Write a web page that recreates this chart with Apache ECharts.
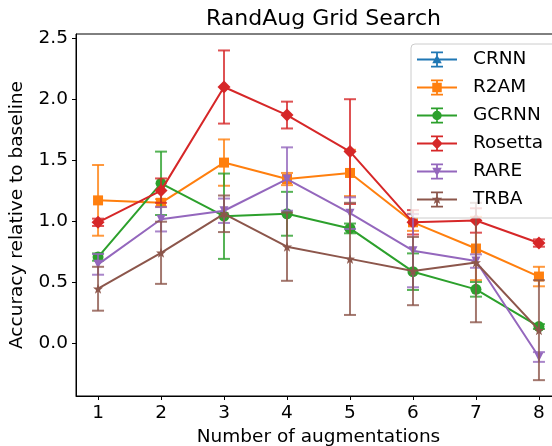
<!DOCTYPE html>
<html>
<head>
<meta charset="utf-8">
<script src="https://cdn.jsdelivr.net/npm/echarts@6/dist/echarts.min.js"></script>
<style>
html,body{margin:0;padding:0;background:#fff;}
#chart{width:552px;height:446px;}
</style>
</head>
<body>
<div id="chart"></div>
<script>
// ---- data ----
var xValues = [1, 2, 3, 4, 5, 6, 7, 8];
var seriesNames = ['CRNN', 'R2AM', 'GCRNN', 'Rosetta', 'RARE', 'TRBA'];

var crnn      = [];
var crnnErr   = [];
var r2am      = [1.17, 1.15, 1.48, 1.345, 1.395, 0.99, 0.775, 0.545];
var r2amErr   = [0.29, 0.03, 0.19, 0.05, 0.19, 0.07, 0.26, 0.08];
var gcrnn     = [0.705, 1.31, 1.04, 1.06, 0.94, 0.585, 0.44, 0.135];
var gcrnnErr  = [0.03, 0.26, 0.35, 0.18, 0.04, 0.15, 0.06, 0.02];
var rosetta   = [0.99, 1.25, 2.10, 1.87, 1.57, 0.99, 1.005, 0.82];
var rosettaErr= [0.03, 0.10, 0.30, 0.11, 0.43, 0.10, 0.10, 0.03];
var rare      = [0.645, 1.015, 1.085, 1.345, 1.065, 0.757, 0.672, -0.115];
var rareErr   = [0.085, 0.10, 0.10, 0.26, 0.13, 0.30, 0.055, 0.04];
var trba      = [0.445, 0.74, 1.06, 0.79, 0.69, 0.59, 0.66, 0.105];
var trbaErr   = [0.18, 0.255, 0.15, 0.28, 0.46, 0.28, 0.49, 0.41];

var yTicks = [0, 0.5, 1.0, 1.5, 2.0, 2.5];
var xTicks = [1, 2, 3, 4, 5, 6, 7, 8];

var titleText = 'RandAug Grid Search';
var xName = 'Number of augmentations';
var yName = 'Accuracy relative to baseline';

// ---- styling ----
var colors = ['#1f77b4', '#ff7f0e', '#2ca02c', '#d62728', '#9467bd', '#8c564b'];
var markers = ['tri', 'square', 'circle', 'diamond', 'vtri', 'star'];
var values = [crnn, r2am, gcrnn, rosetta, rare, trba];
var errs = [crnnErr, r2amErr, gcrnnErr, rosettaErr, rareErr, trbaErr];
var FONT = 'DejaVu Sans';
var FS = 18.5;

function starPath(cx, cy, ro, ri) {
  var s = '';
  for (var i = 0; i < 10; i++) {
    var a = (-90 + 36 * i) * Math.PI / 180;
    var r = (i % 2 === 0) ? ro : ri;
    var x = cx + r * Math.cos(a), y = cy + r * Math.sin(a);
    s += (i === 0 ? 'M' : 'L') + x.toFixed(3) + ' ' + y.toFixed(3) + ' ';
  }
  return s + 'Z ';
}
function rect(x0, y0, x1, y1) {
  return 'M' + x0 + ' ' + y0 + ' L' + x1 + ' ' + y0 + ' L' + x1 + ' ' + y1 + ' L' + x0 + ' ' + y1 + ' Z ';
}
function markerPath(type, cx, cy, s) {
  var h = s / 2;
  switch (type) {
    case 'tri': return 'M' + cx + ' ' + (cy - h) + ' L' + (cx + h) + ' ' + (cy + h * 0.8) + ' L' + (cx - h) + ' ' + (cy + h * 0.8) + ' Z ';
    case 'vtri': return 'M' + cx + ' ' + (cy + h) + ' L' + (cx - h) + ' ' + (cy - h * 0.8) + ' L' + (cx + h) + ' ' + (cy - h * 0.8) + ' Z ';
    case 'square': return rect(cx - h, cy - h, cx + h, cy + h);
    case 'diamond': return 'M' + cx + ' ' + (cy - h) + ' L' + (cx + h) + ' ' + cy + ' L' + cx + ' ' + (cy + h) + ' L' + (cx - h) + ' ' + cy + ' Z ';
    case 'circle': return 'M' + (cx + h) + ' ' + cy + ' A' + h + ' ' + h + ' 0 1 1 ' + (cx - h) + ' ' + cy + ' A' + h + ' ' + h + ' 0 1 1 ' + (cx + h) + ' ' + cy + ' Z ';
    case 'star': return starPath(cx, cy, h * 1.15, h * 0.45);
  }
}
var markerSizes = {tri: 10, vtri: 10, square: 10, circle: 10, diamond: 12, star: 10};
function legendIcon(type) {
  // 40 x 16 box
  var p = rect(0, 7.1, 40, 8.9) + rect(19.1, 0, 20.9, 16) + rect(14, 0, 26, 1.8) + rect(14, 14.2, 26, 16);
  p += markerPath(type, 20, 8, markerSizes[type] * 0.95);
  return 'path://' + p;
}
function seriesSymbol(type) {
  if (type === 'circle') return 'circle';
  if (type === 'square') return 'rect';
  if (type === 'diamond') return 'diamond';
  if (type === 'tri') return 'triangle';
  if (type === 'vtri') return 'triangle';
  return 'path://' + starPath(10, 10, 10, 4);
}
var symSize = {circle: 11, square: 10, diamond: 13, tri: 10, vtri: 9, star: 10};

var series = [];
seriesNames.forEach(function (name, i) {
  var vals = values[i], e = errs[i], col = colors[i];
  var lineData = [], errData = [];
  for (var k = 0; k < vals.length; k++) {
    lineData.push([xValues[k], vals[k]]);
    errData.push([xValues[k], vals[k] - e[k], vals[k] + e[k]]);
  }
  series.push({
    name: name + ' err',
    type: 'custom',
    data: errData,
    z: 2 + i,
    silent: true,
    encode: {x: 0, y: [1, 2]},
    renderItem: (function (c) {
      return function (params, api) {
        var x = api.value(0);
        var lo = api.coord([x, api.value(1)]);
        var hi = api.coord([x, api.value(2)]);
        var hw = 6;
        var st = {stroke: c, lineWidth: 2, opacity: 0.8};
        return {
          type: 'group',
          children: [
            {type: 'line', shape: {x1: hi[0], y1: hi[1], x2: lo[0], y2: lo[1]}, style: st},
            {type: 'line', shape: {x1: hi[0] - hw, y1: hi[1], x2: hi[0] + hw, y2: hi[1]}, style: st},
            {type: 'line', shape: {x1: lo[0] - hw, y1: lo[1], x2: lo[0] + hw, y2: lo[1]}, style: st}
          ]
        };
      };
    })(col)
  });
  series.push({
    name: name,
    type: 'line',
    data: lineData,
    z: 2 + i,
    color: col,
    symbol: seriesSymbol(markers[i]),
    symbolRotate: markers[i] === 'vtri' ? 180 : 0,
    symbolSize: symSize[markers[i]],
    showAllSymbol: true,
    lineStyle: {color: col, width: 2},
    itemStyle: {color: col, borderWidth: 0},
    emphasis: {disabled: true},
    animation: false
  });
});

var chart = echarts.init(document.getElementById('chart'), null, {renderer: 'canvas'});
chart.setOption({
  animation: false,
  color: colors,
  title: {
    text: titleText,
    left: 318.5, top: 3,
    textAlign: 'center',
    textStyle: {fontFamily: FONT, fontSize: 22, fontWeight: 'normal', color: '#000'}
  },
  grid: {left: 76, right: -9, top: 34, bottom: 50, show: true, borderColor: '#000', borderWidth: 1, outerBoundsMode: 'none', containLabel: false},
  legend: {
    orient: 'vertical',
    left: 411, top: 44,
    z: 30,
    padding: [6, 30, 9, 6],
    itemWidth: 40, itemHeight: 16, itemGap: 9,
    backgroundColor: 'rgba(255,255,255,0.8)',
    borderColor: '#cccccc', borderWidth: 1, borderRadius: 4,
    itemStyle: {borderWidth: 0},
    textStyle: {fontFamily: FONT, fontSize: FS, color: '#000', padding: [0, 0, 0, 11]},
    data: seriesNames.map(function (n, i) { return {name: n, icon: legendIcon(markers[i])}; }),
    selectedMode: false
  },
  xAxis: {
    type: 'value',
    min: 0.65, max: 8.35,
    name: xName, nameLocation: 'middle', nameGap: 32,
    nameTextStyle: {fontFamily: FONT, fontSize: FS, color: '#000'},
    axisLine: {show: true, onZero: false, lineStyle: {color: '#000', width: 1}},
    axisTick: {show: true, length: 4, lineStyle: {color: '#000'}, customValues: xTicks},
    axisLabel: {fontFamily: FONT, fontSize: FS, color: '#000', margin: 8, customValues: xTicks, formatter: function (v) { return String(v); }},
    splitLine: {show: false}
  },
  yAxis: {
    type: 'value',
    min: -0.435, max: 2.535,
    name: yName, nameLocation: 'middle', nameGap: 49,
    nameTextStyle: {fontFamily: FONT, fontSize: FS, color: '#000'},
    axisLine: {show: true, onZero: false, lineStyle: {color: '#000', width: 1}},
    axisTick: {show: true, length: 4, lineStyle: {color: '#000'}, customValues: yTicks},
    axisLabel: {fontFamily: FONT, fontSize: FS, color: '#000', margin: 8, customValues: yTicks, formatter: function (v) { return v.toFixed(1); }},
    splitLine: {show: false}
  },
  series: series
});
</script>
</body>
</html>
